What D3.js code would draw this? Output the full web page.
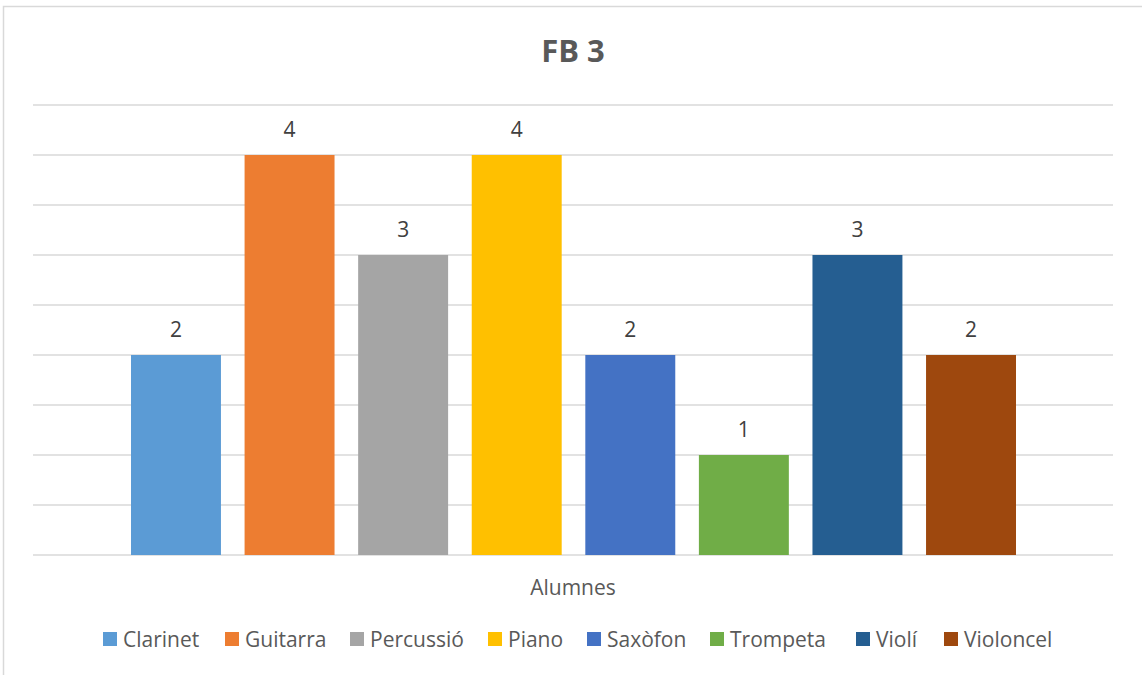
<!DOCTYPE html>
<html>
<head>
<meta charset="utf-8">
<script src="https://cdn.jsdelivr.net/npm/d3@7"></script>
<style>
  body { margin: 0; background: #fff; }
  text { font-family: "Open Sans", "Liberation Sans", sans-serif; }
</style>
</head>
<body>
<script>
// data
var category = "Alumnes";
var series = ["Clarinet", "Guitarra", "Percussió", "Piano", "Saxòfon", "Trompeta", "Violí", "Violoncel"];
var values = [2, 4, 3, 4, 2, 1, 3, 2];
var colors = ["#5b9bd5", "#ed7d31", "#a5a5a5", "#ffc000", "#4472c4", "#70ad47", "#255e91", "#9e480e"];
var gridTicks = [0, 0.5, 1, 1.5, 2, 2.5, 3, 3.5, 4, 4.5];

var width = 1142, height = 675;
var plot = {left: 33, right: 1113, top: 105, bottom: 555};

var svg = d3.select("body").append("svg")
    .attr("width", width)
    .attr("height", height);

// chart border (only left/top visible in the frame)
svg.append("rect")
    .attr("x", 3.5).attr("y", 6.5)
    .attr("width", 1150).attr("height", 700)
    .attr("fill", "#fff")
    .attr("stroke", "#d9d9d9")
    .attr("stroke-width", 1.5);

//SCALES
var yScale = d3.scaleLinear()
    .domain([0, 4.5])
    .range([plot.bottom, plot.top]);

var xScale = d3.scaleBand()
    .domain(series)
    .range([131, 1016])
    .paddingInner(0.208)
    .paddingOuter(0);

// gridlines
svg.append("g").selectAll("line")
    .data(gridTicks)
    .enter().append("line")
        .attr("x1", plot.left).attr("x2", plot.right)
        .attr("y1", function(d){ return yScale(d); })
        .attr("y2", function(d){ return yScale(d); })
        .attr("stroke", "#d9d9d9")
        .attr("stroke-width", 1.5);

// bars
svg.append("g").selectAll("rect")
    .data(values)
    .enter().append("rect")
        .attr("x", function(d, i){ return xScale(series[i]); })
        .attr("y", function(d){ return yScale(d); })
        .attr("width", xScale.bandwidth())
        .attr("height", function(d){ return yScale(0) - yScale(d); })
        .attr("fill", function(d, i){ return colors[i]; });

// data labels
svg.append("g").selectAll("text")
    .data(values)
    .enter().append("text")
        .attr("x", function(d, i){ return xScale(series[i]) + xScale.bandwidth() / 2; })
        .attr("y", function(d){ return yScale(d) - 18; })
        .attr("text-anchor", "middle")
        .attr("font-size", 21)
        .attr("fill", "#404040")
        .text(function(d){ return d; });

// title
svg.append("text")
    .attr("x", 573).attr("y", 62)
    .attr("text-anchor", "middle")
    .attr("font-size", 31)
    .attr("font-weight", "bold")
    .attr("fill", "#595959")
    .text("FB 3");

// category label
svg.append("text")
    .attr("x", 573).attr("y", 595)
    .attr("text-anchor", "middle")
    .attr("font-size", 21)
    .attr("fill", "#595959")
    .text(category);

// legend
var legendX = [103, 225, 350, 488, 587, 710, 856, 944];
var legend = svg.append("g").selectAll("g")
    .data(series)
    .enter().append("g")
        .attr("transform", function(d, i){ return "translate(" + legendX[i] + ",632)"; });

legend.append("rect")
    .attr("width", 14).attr("height", 14)
    .attr("fill", function(d, i){ return colors[i]; });

legend.append("text")
    .attr("x", 20).attr("y", 15)
    .attr("font-size", 21)
    .attr("fill", "#595959")
    .text(function(d){ return d; });
</script>
</body>
</html>
